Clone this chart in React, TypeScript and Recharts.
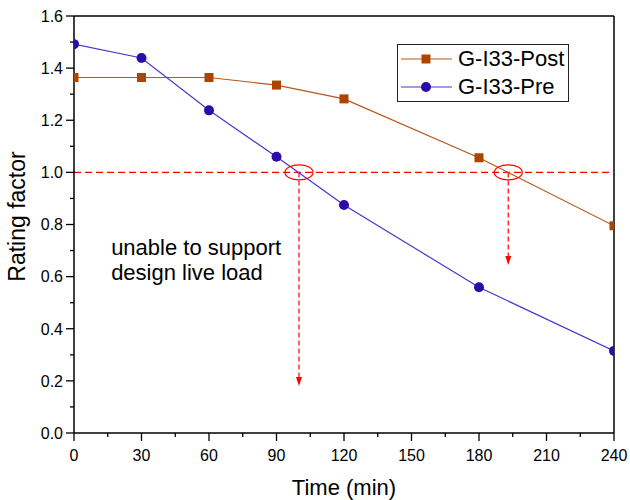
import React from "react";
import {
  Legend,
  Line,
  LineChart,
  ReferenceDot,
  ReferenceLine,
  XAxis,
  YAxis,
} from "recharts";

const times = [0, 30, 60, 90, 120, 180, 240];
const postRF = [1.364, 1.364, 1.364, 1.335, 1.282, 1.056, 0.795];
const preRF = [1.492, 1.439, 1.238, 1.06, 0.875, 0.559, 0.315];

const xTicks = [0, 15, 30, 45, 60, 75, 90, 105, 120, 135, 150, 165, 180, 195, 210, 225, 240];
const yTicks = [0, 0.1, 0.2, 0.3, 0.4, 0.5, 0.6, 0.7, 0.8, 0.9, 1, 1.1, 1.2, 1.3, 1.4, 1.5, 1.6];

// where each curve crosses RF = 1.0, and where the dashed arrow stops
const crossTimes = [100, 193];
const arrowTips = [0.18, 0.645];
const noteLines = ["unable to support", "design live load"];
const noteAt = { x: 16.5, y: 0.683 };

const data = times.map((t, i) => ({ t, post: postRF[i], pre: preRF[i] }));

const FONT = "'Liberation Sans', Arial, sans-serif";
const POST = "#AD4500";
const POST_LINE = "#B8561C";
const PRE = "#2B0CA8";
const PRE_LINE = "#4A36D0";

const XTick = (props: any) => {
  const { x, y, payload } = props;
  const major = payload.value % 30 === 0;
  return (
    <g>
      <line x1={x} x2={x} y1={y} y2={y + (major ? 8 : 4)} stroke="#000" strokeWidth={1.3} />
      {major && (
        <text x={x} y={y + 28} textAnchor="middle" fontSize={16} fill="#000" fontFamily={FONT}>
          {payload.value}
        </text>
      )}
    </g>
  );
};

const YTick = (props: any) => {
  const { x, y, payload } = props;
  const major = Math.round(payload.value * 10) % 2 === 0;
  return (
    <g>
      <line x1={x - (major ? 8 : 4)} x2={x} y1={y} y2={y} stroke="#000" strokeWidth={1.3} />
      {major && (
        <text x={x - 11} y={y} dy="0.36em" textAnchor="end" fontSize={16} fill="#000" fontFamily={FONT}>
          {payload.value.toFixed(1)}
        </text>
      )}
    </g>
  );
};

const SquareDot = (props: any) => {
  const { cx, cy, index } = props;
  return <rect key={`sq-${index}`} x={cx - 4.5} y={cy - 4.5} width={9} height={9} fill={POST} />;
};

const legendItems = [
  { name: "G-I33-Post", line: POST_LINE, fill: POST, square: true },
  { name: "G-I33-Pre", line: PRE_LINE, fill: PRE, square: false },
];

const renderLegend = () => (
  <div
    style={{
      border: "1.3px solid #222",
      background: "#fff",
      padding: "0 4px 0 2px",
      fontFamily: FONT,
      fontSize: 22,
      lineHeight: "28px",
      whiteSpace: "nowrap",
      display: "inline-block",
    }}
  >
    {legendItems.map((it) => (
      <div key={it.name} style={{ display: "flex", alignItems: "center", height: 28 }}>
        <svg width={52} height={28} style={{ marginRight: 6 }}>
          <line x1={1} x2={52} y1={14} y2={14} stroke={it.line} strokeWidth={1.2} />
          {it.square ? (
            <rect x={21.5} y={9.5} width={9} height={9} fill={it.fill} />
          ) : (
            <circle cx={26} cy={14} r={5} fill={it.fill} />
          )}
        </svg>
        <span>{it.name}</span>
      </div>
    ))}
  </div>
);

const Ellipse = (props: any) => (
  <ellipse cx={props.cx} cy={props.cy} rx={14} ry={7.5} fill="none" stroke="#FF0000" strokeWidth={1.2} />
);

const ArrowHead = (props: any) => (
  <path
    d={`M${props.cx - 3},${props.cy - 9} L${props.cx + 3},${props.cy - 9} L${props.cx},${props.cy} Z`}
    fill="#FF0000"
  />
);

const Note = (props: any) => (
  <text x={props.cx} y={props.cy} fontSize={22} fill="#000" fontFamily={FONT}>
    {noteLines.map((s, i) => (
      <tspan key={i} x={props.cx} dy={i === 0 ? 0 : 25}>
        {s}
      </tspan>
    ))}
  </text>
);

const YLabel = (props: any) => {
  const vb = props.viewBox;
  const cx = 17;
  const cy = vb.y + vb.height / 2 - 8;
  return (
    <text
      x={cx}
      y={cy}
      transform={`rotate(-90 ${cx} ${cy})`}
      textAnchor="middle"
      dominantBaseline="central"
      fontSize={23}
      fill="#000"
      fontFamily={FONT}
    >
      Rating factor
    </text>
  );
};

const XLabel = (props: any) => {
  const vb = props.viewBox;
  return (
    <text x={vb.x + vb.width / 2} y={vb.y + 62} textAnchor="middle" fontSize={22} fill="#000" fontFamily={FONT}>
      Time (min)
    </text>
  );
};

export default function App() {
  return (
    <div style={{ position: "absolute", left: 0, top: 0, background: "#fff" }}>
      <LineChart width={630} height={500} data={data} margin={{ top: 16, right: 16, left: 0, bottom: 0 }}>
        <XAxis
          dataKey="t"
          type="number"
          domain={[0, 240]}
          ticks={xTicks}
          interval={0}
          allowDataOverflow
          height={67}
          tickSize={0}
          tickMargin={0}
          tick={<XTick />}
          axisLine={{ stroke: "#000", strokeWidth: 1.5 }}
          label={<XLabel />}
        />
        <YAxis
          type="number"
          domain={[0, 1.6]}
          ticks={yTicks}
          interval={0}
          allowDataOverflow
          width={74}
          tickSize={0}
          tickMargin={0}
          tick={<YTick />}
          axisLine={{ stroke: "#000", strokeWidth: 1.5 }}
          label={<YLabel />}
        />
        <ReferenceLine y={1.6} stroke="#000" strokeWidth={1.5} />
        <ReferenceLine x={240} stroke="#000" strokeWidth={1.5} />
        <ReferenceLine y={1} stroke="#FF0000" strokeWidth={1.2} strokeDasharray="7 4" />
        {crossTimes.map((ct, i) => (
          <ReferenceLine
            key={`arr-${i}`}
            segment={[
              { x: ct, y: 1 },
              { x: ct, y: arrowTips[i] + 0.03 },
            ]}
            stroke="#FF0000"
            strokeWidth={1.2}
            strokeDasharray="5 3"
          />
        ))}
        {crossTimes.map((ct, i) => (
          <ReferenceDot key={`tip-${i}`} x={ct} y={arrowTips[i]} shape={ArrowHead} />
        ))}
        {crossTimes.map((ct, i) => (
          <ReferenceDot key={`ell-${i}`} x={ct} y={1} shape={Ellipse} />
        ))}
        <ReferenceDot x={noteAt.x} y={noteAt.y} shape={Note} />
        <Line
          type="linear"
          dataKey="post"
          name="G-I33-Post"
          stroke={POST_LINE}
          strokeWidth={1.2}
          dot={SquareDot}
          activeDot={false}
          isAnimationActive={false}
        />
        <Line
          type="linear"
          dataKey="pre"
          name="G-I33-Pre"
          stroke={PRE_LINE}
          strokeWidth={1.2}
          dot={{ r: 5, fill: PRE, stroke: PRE, strokeWidth: 0 }}
          activeDot={false}
          isAnimationActive={false}
        />
        <Legend
          layout="vertical"
          align="center"
          verticalAlign="middle"
          content={renderLegend}
          wrapperStyle={{ left: 397, top: 44, width: "auto", height: "auto" }}
        />
      </LineChart>
    </div>
  );
}
